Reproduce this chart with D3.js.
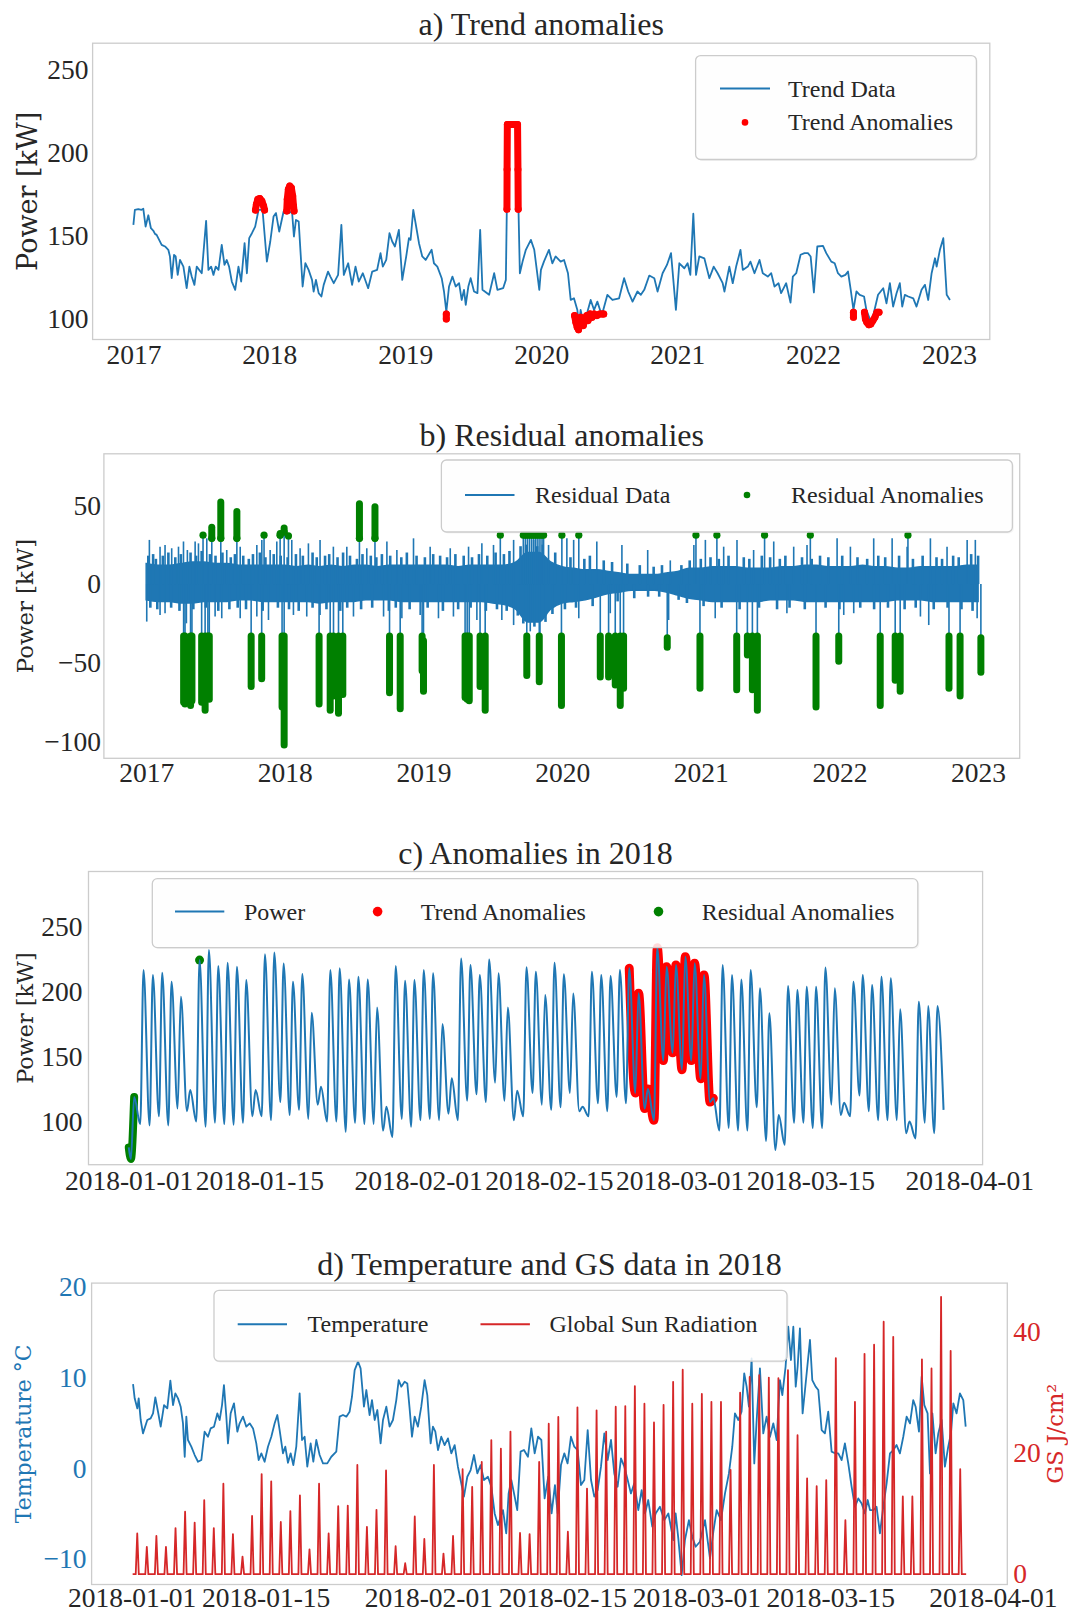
<!DOCTYPE html>
<html>
<head>
<meta charset="utf-8">
<script src="https://cdn.jsdelivr.net/npm/d3@7"></script>
<style>
  body { margin: 0; background: #fff; }
</style>
</head>
<body>
<svg id="chart" width="1068" height="1613"></svg>
<script>
// ---------- a) trend, [decimal year, kW] ----------
const trendData = [
  [2017.0,156.6],[2017.011,165.7],[2017.036,166.1],[2017.06,165.7],[2017.073,166.3],[2017.09,155.6],[2017.11,162.4],[2017.129,154.6],
  [2017.146,153.2],[2017.159,151.2],[2017.171,150.6],[2017.183,148.6],[2017.208,144.6],[2017.233,143.6],[2017.257,141.6],[2017.269,137.6],
  [2017.282,124.5],[2017.299,138.6],[2017.311,137.6],[2017.326,126.5],[2017.343,135.5],[2017.368,131.5],[2017.392,118.5],[2017.412,131.5],
  [2017.429,125.5],[2017.449,120.5],[2017.466,131.5],[2017.503,127.5],[2017.535,159],[2017.552,129.5],[2017.572,131.5],[2017.589,126.5],
  [2017.606,131.5],[2017.626,129.5],[2017.65,144.6],[2017.67,132.5],[2017.687,135.5],[2017.704,131.5],[2017.724,122.5],[2017.749,117.5],
  [2017.773,131.5],[2017.793,122.5],[2017.818,145.6],[2017.835,127.5],[2017.852,148.6],[2017.872,151.6],[2017.896,155.6],[2017.921,165.7],
  [2017.95,165.7],[2017.982,134.5],[2018.007,146.6],[2018.031,161.6],[2018.049,163.7],[2018.073,152.6],[2018.105,164.7],[2018.142,163.7],
  [2018.167,164.7],[2018.181,149.6],[2018.196,159.6],[2018.216,158.6],[2018.245,119.5],[2018.265,133.5],[2018.289,129.5],[2018.314,123.5],
  [2018.326,116.5],[2018.343,123.5],[2018.363,115.5],[2018.383,113.5],[2018.4,120.5],[2018.432,128.5],[2018.449,125.5],[2018.474,121.5],
  [2018.506,126.5],[2018.53,156.6],[2018.548,126.5],[2018.58,133.5],[2018.609,120.5],[2018.634,131.5],[2018.658,122.5],[2018.688,127.5],
  [2018.727,118.5],[2018.757,128.5],[2018.793,129.5],[2018.818,139.6],[2018.835,131.5],[2018.86,135.5],[2018.884,151.6],[2018.904,146.6],
  [2018.924,143.6],[2018.953,153.6],[2018.978,123.5],[2019.007,137.6],[2019.027,148.6],[2019.039,147.6],[2019.059,165.7],[2019.076,157.6],
  [2019.101,145.6],[2019.125,137.6],[2019.15,135.5],[2019.194,141.6],[2019.211,133.5],[2019.236,131.5],[2019.268,124.5],[2019.285,116.5],
  [2019.302,104.4],[2019.322,119.5],[2019.347,125.5],[2019.371,119.5],[2019.396,121.5],[2019.415,111.4],[2019.432,117.5],[2019.445,108.4],
  [2019.464,119.5],[2019.481,124.5],[2019.506,116.5],[2019.531,115.5],[2019.551,153.6],[2019.568,117.5],[2019.617,114.5],[2019.654,127.5],
  [2019.678,117.5],[2019.72,118.5],[2019.74,123.5],[2019.747,165.7],[2019.752,216.9],[2019.826,216.9],[2019.833,165.7],[2019.843,127.5],
  [2019.863,134.5],[2019.887,141.6],[2019.924,147.6],[2019.949,141.6],[2019.986,117.5],[2019.998,129.5],[2020.02,134.5],[2020.057,141.6],
  [2020.082,133.5],[2020.106,137.6],[2020.143,134.5],[2020.168,135.5],[2020.197,127.5],[2020.217,111.4],[2020.241,112.4],[2020.266,105.4],
  [2020.278,95.4],[2020.29,105.4],[2020.31,97.4],[2020.327,100.4],[2020.364,111.4],[2020.389,105.4],[2020.413,110.4],[2020.433,105.4],
  [2020.45,103.4],[2020.487,114.5],[2020.524,111.4],[2020.573,112.4],[2020.61,124.5],[2020.64,116.5],[2020.672,110.4],[2020.708,116.5],
  [2020.733,114.5],[2020.758,117.5],[2020.795,126.1],[2020.832,124.5],[2020.856,116.5],[2020.893,127.5],[2020.925,132.5],[2020.955,139.6],
  [2020.991,105.4],[2021.016,133.5],[2021.053,130.5],[2021.077,133.5],[2021.097,126.5],[2021.119,163.3],[2021.139,126.5],[2021.163,137.6],
  [2021.2,136.5],[2021.237,124.5],[2021.269,131.5],[2021.298,127.5],[2021.335,121.5],[2021.348,116.5],[2021.384,131.5],[2021.409,121.5],
  [2021.434,131.5],[2021.466,141.6],[2021.483,129.5],[2021.52,131.5],[2021.539,134.5],[2021.569,127.5],[2021.606,135.5],[2021.63,127.5],
  [2021.667,125.5],[2021.692,127.5],[2021.716,119.5],[2021.746,121.5],[2021.765,115.5],[2021.802,121.5],[2021.834,109.8],[2021.851,125.5],
  [2021.876,127.5],[2021.908,138.6],[2021.937,139.6],[2021.962,139.6],[2021.982,137.6],[2022.006,115.9],[2022.031,143.6],[2022.073,144],
  [2022.097,139.6],[2022.134,134.5],[2022.159,133.5],[2022.183,127.5],[2022.208,125.5],[2022.238,126.5],[2022.257,128.5],[2022.277,117.5],
  [2022.297,105.4],[2022.319,116.5],[2022.343,114.5],[2022.375,113.5],[2022.392,105.4],[2022.429,97.4],[2022.478,114.5],[2022.516,118.5],
  [2022.54,109.4],[2022.565,121.5],[2022.589,107.4],[2022.614,115.5],[2022.638,121.5],[2022.656,107.4],[2022.675,114.5],[2022.7,113.5],
  [2022.737,112.4],[2022.761,107.4],[2022.798,117.5],[2022.823,120.5],[2022.847,111.4],[2022.872,127.5],[2022.897,136.5],[2022.909,131.5],
  [2022.933,141.6],[2022.958,148.6],[2022.983,114.5],[2023.007,111.4]
];
// trend anomalies, one array per cluster
const trendAnomalies = [
  [[2017.898,165.5],[2017.905,169],[2017.915,172],[2017.93,172.5],[2017.945,171],[2017.958,168],[2017.965,165.5]],
  [[2018.128,165],[2018.132,172],[2018.14,178],[2018.15,180],[2018.162,179],[2018.172,174],[2018.178,168],[2018.182,165]],
  [[2019.302,103],[2019.302,100]],
  [[2019.748,166],[2019.749,190],[2019.751,217],[2019.77,217],[2019.79,217],[2019.81,217],[2019.826,217],[2019.829,190],[2019.831,166]],
  [[2020.245,102],[2020.255,98],[2020.265,95],[2020.275,93.5],[2020.283,97],[2020.29,101],[2020.3,97],[2020.31,96],[2020.32,100],
   [2020.335,102],[2020.345,99],[2020.36,103],[2020.375,101],[2020.39,103],[2020.41,102],[2020.43,103],[2020.45,103],[2020.46,103]],
  [[2022.297,104],[2022.297,101]],
  [[2022.378,104],[2022.385,100],[2022.395,98],[2022.41,96.5],[2022.425,97],[2022.44,99],[2022.455,101],[2022.47,104],[2022.485,104]]
];
const yearTicks = [2017, 2018, 2019, 2020, 2021, 2022, 2023];

// ---------- b) residuals ----------
// monthly envelope of the dense residual band, Jan 2017 .. Jan 2023
const resUpper = [13,12,12,13,14,14,13,13,12,12,12,12, 12,11,12,11,12,11,12,12,11,12,12,12,
  12,12,12,11,12,12,12,12,14,20,20,14, 11,10,9,9,8,7,6,6,6,7,8,10,
  10,11,11,11,10,10,10,11,11,12,12,11, 11,11,12,11,11,10,10,11,11,11,11,12, 12];
const resLower = [-10,-11,-11,-12,-12,-11,-11,-11,-10,-10,-11,-11, -11,-11,-11,-12,-11,-11,-11,-10,-10,-10,-11,-11,
  -11,-11,-11,-11,-11,-11,-12,-13,-16,-24,-24,-16, -12,-11,-10,-8,-6,-5,-4,-4,-4,-5,-7,-9,
  -10,-11,-11,-11,-11,-11,-10,-10,-10,-11,-11,-11, -11,-11,-11,-11,-11,-10,-10,-10,-11,-11,-11,-11, -11];
// tall excursions of the residual line
const resUpSpikes = [[2017.023,28],[2017.1,23.7],[2017.136,24.8],[2017.184,22.7],[2017.233,23.7],[2017.269,27],[2017.297,21.6],
  [2017.353,27],[2017.377,25.8],[2017.437,29],[2017.581,21.6],[2017.678,23.7],[2017.798,24.8],[2017.834,28],[2017.894,21.6],
  [2017.942,27],[2018.05,28],[2018.11,22.7],[2018.17,25.8],[2018.254,28],[2018.35,23.7],[2018.447,23.7],[2018.591,22.7],
  [2018.736,27],[2018.808,21.6],[2018.928,29],[2019.048,23.7],[2019.193,22.7],[2019.325,23.7],[2019.421,25.8],[2019.505,24.8],
  [2019.65,28],[2019.794,28],[2019.902,24.8],[2020.034,29],[2020.083,28],[2020.25,27],[2020.431,24.8],[2020.617,21.6],
  [2020.78,15],[2020.95,24.8],[2021.033,28],[2021.165,23.7],[2021.261,28],[2021.381,21.6],[2021.526,27],[2021.67,23.7],
  [2021.766,24.8],[2021.983,29],[2022.079,23.7],[2022.247,29],[2022.38,29],[2022.488,23.7],[2022.656,29],[2022.776,23.7],
  [2022.921,28],[2022.98,28]];
const resDownSpikes = [[2017.004,-23.8],[2017.1,-19.6],[2017.136,-18.5],[2017.29,-24.9],[2017.497,-20.6],[2017.545,-21.7],
  [2017.678,-21.7],[2017.798,-20.6],[2017.882,-22.8],[2018.062,-19.6],[2018.158,-20.6],[2018.254,-19.6],[2018.495,-20.6],
  [2018.712,-20.6],[2018.844,-21.7],[2018.976,-19.6],[2019.108,-21.7],[2019.216,-20.6],[2019.385,-22.8],[2019.565,-22.8],
  [2019.65,-26],[2019.77,-30],[2019.84,-31],[2020.12,-21.7],[2020.347,-18.5],[2020.768,-22.8],[2021.104,-21.7],[2021.621,-18.5],
  [2022.031,-19.6],[2022.103,-18.5],[2022.584,-20.6],[2022.644,-26],[2022.993,-21.7]];
// medium excursions that make the ragged edge of the band
const resMidSpikes = [[2017.015,18],[2017.05,19],[2017.07,16],[2017.12,18],[2017.16,20],[2017.21,17],[2017.25,19],[2017.32,20],
  [2017.36,18],[2017.40,21],[2017.46,19],[2017.50,18],[2017.55,20],[2017.61,17],[2017.64,19],[2017.70,18],[2017.74,16],[2017.77,19],
  [2017.82,20],[2017.86,17],[2017.92,19],[2017.97,18],[2018.02,17],[2018.08,19],[2018.13,18],[2018.20,20],[2018.23,17],[2018.29,18],
  [2018.32,19],[2018.38,17],[2018.42,20],[2018.47,18],[2018.52,16],[2018.56,19],[2018.62,18],[2018.66,17],[2018.70,19],[2018.76,18],
  [2018.84,17],[2018.88,20],[2018.95,18],[2019.01,17],[2019.07,19],[2019.12,18],[2019.17,17],[2019.23,19],[2019.29,18],[2019.35,17],
  [2019.40,19],[2019.46,18],[2019.52,20],[2019.58,19],[2019.62,21],[2019.70,24],[2019.74,25],[2019.82,24],[2019.86,25],[2019.95,20],
  [2020.06,17],[2020.16,16],[2020.20,18],[2020.30,15],[2020.36,14],[2020.47,13],[2020.56,12],[2020.66,11],[2020.72,12],[2020.86,12],
  [2020.92,15],[2021.00,16],[2021.07,17],[2021.13,16],[2021.20,18],[2021.31,17],[2021.35,16],[2021.44,18],[2021.50,17],[2021.57,16],
  [2021.61,18],[2021.73,17],[2021.80,16],[2021.86,18],[2021.92,17],[2022.02,18],[2022.13,17],[2022.20,16],[2022.28,18],[2022.33,17],
  [2022.43,18],[2022.53,16],[2022.60,18],[2022.70,17],[2022.74,16],[2022.82,18],[2022.86,17],[2022.95,19],[2023.0,18],
  [2017.03,-15],[2017.08,-16],[2017.18,-15],[2017.24,-17],[2017.34,-16],[2017.43,-15],[2017.52,-17],[2017.60,-16],[2017.66,-15],
  [2017.72,-16],[2017.84,-17],[2017.95,-15],[2018.03,-16],[2018.10,-17],[2018.20,-15],[2018.30,-16],[2018.40,-17],[2018.45,-15],
  [2018.55,-16],[2018.63,-15],[2018.75,-17],[2018.80,-15],[2018.90,-16],[2019.03,-15],[2019.14,-17],[2019.25,-16],[2019.34,-15],
  [2019.45,-17],[2019.53,-16],[2019.60,-17],[2019.68,-20],[2019.72,-25],[2019.80,-27],[2019.88,-24],[2019.93,-19],[2020.02,-16],
  [2020.10,-15],[2020.22,-14],[2020.40,-11],[2020.52,-9],[2020.62,-8],[2020.70,-8],[2020.84,-10],[2020.90,-12],[2021.02,-14],
  [2021.15,-15],[2021.28,-16],[2021.42,-15],[2021.55,-16],[2021.64,-15],[2021.75,-16],[2021.90,-15],[2022.00,-16],[2022.15,-15],
  [2022.25,-16],[2022.35,-15],[2022.47,-16],[2022.55,-15],[2022.68,-16],[2022.78,-15],[2022.88,-16],[2022.96,-17]];
// residual anomalies below the band: [year, top, bottom]
const resAnomLow = [[2017.27,-33,-75],[2017.28,-33,-76],[2017.32,-33,-77],[2017.33,-33,-74],[2017.4,-33,-75],[2017.425,-33,-80],
  [2017.445,-33,-72],[2017.455,-33,-73],[2017.757,-33,-65],[2017.833,-33,-60],[2017.98,-33,-78],[2017.995,-33,-102],
  [2018.247,-33,-76],[2018.327,-33,-80],[2018.351,-33,-71],[2018.387,-33,-82],[2018.418,-33,-70],[2018.755,-33,-69],
  [2018.832,-33,-79],[2018.99,-33,-55],[2019.0,-36,-68],[2019.3,-33,-72],[2019.315,-33,-73],[2019.33,-33,-74],
  [2019.408,-33,-65],[2019.445,-33,-80],[2019.745,-33,-58],[2019.835,-33,-62],[2019.995,-33,-77],[2020.275,-33,-59],
  [2020.335,-33,-59],[2020.383,-33,-64],[2020.419,-33,-77],[2020.443,-33,-66],[2020.758,-34,-40],[2020.994,-33,-66],
  [2021.259,-33,-67],[2021.336,-33,-45],[2021.372,-33,-67],[2021.408,-33,-80],[2021.831,-33,-78],[2021.995,-33,-49],
  [2022.294,-33,-77],[2022.402,-33,-61],[2022.438,-33,-68],[2022.79,-33,-66],[2022.87,-33,-71],[2023.02,-34,-56]];
// residual anomalies above the band: [year, low, high]
const resAnomHigh = [[2017.41,31,31],[2017.473,29,36],[2017.538,29,52],[2017.654,29,46],[2017.85,31,31],[2017.966,31,32],
  [2017.995,33,35.5],[2018.026,30.5,30.5],[2018.538,29,51],[2018.65,29,49],[2019.554,31,31],[2019.72,31,31],[2019.735,31,31],
  [2019.75,31,31],[2019.765,31,31],[2019.78,31,31],[2019.795,31,31],[2019.81,31,31],[2019.825,31,31],[2019.84,31,31],
  [2019.855,31,31],[2019.866,31,31],[2019.998,31,31],[2020.12,31,31],[2020.965,31,31],[2021.116,31,31],[2021.46,31,31],
  [2021.79,31,31],[2022.494,31,31]];

// ---------- c) power in 2018, day 0 = 2018-01-01 ----------
const powerTroughs = [71,98,97,104,97,110,108,100,96,99, 98,97.5,99,104,104,101,115,105,109,102,
  113,100,100,92,99,98,98,93,88,102, 96,101,102,101,106,101,116,121,115,130,
  116,101,104,122,113,109,111,122,108,104, 114,108,119,114,122,110,101,147,153,140,
  147,133,115,93,95,93,93,111,85,78, 82,99,99,95,95,113,105,104,120,108,
  101,101,101,91,87,99,91,109];
const powerPeaks = [119,216.8,213,214.8,207.8,196.3,124.3,224.5,232.2,219.9, 222.5,219.4,209.1,124.3,228.9,230.4,221.9,207.8,213.7,183.9,
  126.9,216.8,218.1,209.6,211.7,209.6,188,111.4,219.9,208.6, 209.1,216.8,214.3,175.2,133.3,225.8,220.7,213,225,214.3,
  188,123.8,218.9,215.5,197.5,222.5,213.5,198.8,111.4,215.5, 213,212.2,216.8,218.1,199,125,234,219.4,220.7,227,
  222,213,118,220.7,213,209.6,216.8,202.7,183.4,105, 204.5,201.4,204,204,218.7,202.7,114.5,207.8,213,205.3,
  211.7,210.4,186.5,100,192.4,189,189];
const trendWindowC = [53.3, 62.95];                 // trend anomaly days
const residualC = [[0.02,80],[0.25,71],[0.6,119]];  // start-of-year residual anomaly
const residualDotC = [[7.6,224.5]];

// ---------- d) temperature and global sun radiation ----------
const temperature = [
  [0.14,9.3],[0.31,7.72],[0.59,6.61],[0.73,7.72],[0.94,5.33],[1.18,3.85],[1.63,5.33],[1.98,5.51],[2.23,6.06],[2.47,7.83],
  [2.75,6.24],[3.03,4.59],[3.38,6.98],[3.72,6.61],[4.04,9.67],[4.32,6.98],[4.56,8.27],[4.84,7.72],[5.12,6.8],[5.36,4.96],
  [5.54,1.27],[5.71,5.7],[5.88,3.12],[6.23,2.38],[6.58,1.46],[6.93,0.72],[7.28,0.91],[7.62,4.04],[7.97,3.48],[8.25,4.4],
  [8.6,4.59],[8.95,6.06],[9.19,5.33],[9.44,6.98],[9.64,9.19],[9.89,5.7],[10.06,2.75],[10.34,6.06],[10.69,7.17],[11.04,4.04],
  [11.28,4.96],[11.63,5.7],[11.98,4.59],[12.33,4.96],[12.68,4.4],[13.02,2.75],[13.27,0.91],[13.55,1.65],[13.89,0.72],[14.24,2.38],
  [14.59,3.48],[14.94,4.96],[15.22,5.88],[15.46,4.22],[15.81,1.65],[16.05,2.38],[16.33,0.61],[16.61,1.65],[16.89,0.35],[17.2,2.38],
  [17.55,8.27],[17.8,3.12],[18.07,3.48],[18.35,0.17],[18.7,2.75],[18.98,0.72],[19.29,3.12],[19.64,1.46],[19.99,0.54],[20.44,0.54],
  [20.86,1.27],[21.38,1.83],[21.73,5.7],[22.08,5.88],[22.43,5.7],[22.77,6.24],[23.02,7.9],[23.3,10.84],[23.65,11.77],[23.92,11.03],
  [24.27,6.8],[24.52,8.64],[24.86,5.88],[25.11,7.53],[25.39,5.33],[25.67,6.43],[26.01,2.75],[26.26,5.33],[26.61,6.8],[26.95,4.59],
  [27.3,5.33],[27.65,7.53],[27.9,9.74],[28.17,9.01],[28.52,9.56],[28.8,9.37],[29.04,6.61],[29.29,3.48],[29.57,5.7],[29.91,4.59],
  [30.26,6.8],[30.61,9.74],[30.89,8.08],[31.24,2.75],[31.48,4.59],[31.73,4.04],[32.01,2.01],[32.35,3.48],[32.7,2.56],[33.05,3.3],
  [33.4,1.65],[33.75,2.56],[34.09,0.17],[34.37,-1.3],[34.72,-3.14],[35.07,-0.94],[35.42,-0.2],[35.77,1.46],[36.12,-0.57],[36.46,0.35],
  [36.81,-1.3],[37.23,-0.94],[37.58,-2.04],[37.93,-4.99],[38.27,-6.28],[38.8,-4.62],[39.14,-7.2],[39.39,-2.78],[39.67,-1.3],[40.02,-3.14],
  [40.29,-4.62],[40.64,1.83],[40.99,2.01],[41.41,1.27],[41.76,4.4],[42.11,1.65],[42.46,3.48],[42.81,3.12],[43.15,-3.33],[43.53,-0.94],
  [43.88,-4.99],[44.23,-1.86],[44.51,-4.99],[44.86,0.35],[45.21,1.65],[45.55,0.54],[45.9,3.48],[46.25,2.38],[46.6,2.01],[46.95,-1.86],
  [47.3,-1.3],[47.65,4.22],[48.0,-1.3],[48.34,-3.14],[48.69,-2.41],[49.04,0.17],[49.39,3.85],[49.74,0.91],[50.09,3.12],[50.43,-0.57],
  [50.78,-2.04],[51.13,1.09],[51.48,0.17],[51.83,-1.3],[52.17,-2.78],[52.52,-1.67],[52.94,-4.62],[53.29,-2.41],[53.64,-4.99],[53.98,-3.51],
  [54.4,-6.46],[54.75,-4.99],[55.2,-4.26],[55.66,-5.73],[56.08,-4.99],[56.6,-7.94],[56.84,-4.99],[57.12,-7.75],[57.47,-11.8],[57.81,-7.94],
  [58.23,-5.73],[58.58,-7.57],[58.93,-8.67],[59.38,-8.12],[59.91,-5.73],[60.43,-9.96],[60.78,-7.02],[61.13,-4.62],[61.58,-5.73],[62.0,-2.78],
  [62.41,-0.57],[62.76,2.38],[63.04,6.06],[63.39,5.33],[63.73,6.24],[64.01,10.48],[64.26,9.01],[64.5,6.8],[64.78,12.13],[65.06,0.54],
  [65.31,5.33],[65.65,11.03],[66.0,3.85],[66.35,5.7],[66.7,3.48],[67.05,4.96],[67.4,3.12],[67.74,9.74],[67.99,8.08],[68.33,11.21],
  [68.61,15.63],[68.89,11.95],[69.14,15.63],[69.39,9.01],[69.59,11.21],[69.83,15.45],[70.11,6.06],[70.36,8.64],[70.88,14.17],[71.12,9.74],
  [71.47,9.01],[71.75,8.64],[72.1,4.22],[72.44,3.85],[72.79,6.24],[73.14,1.83],[73.49,1.65],[73.84,1.65],[74.19,0.91],[74.53,2.75],
  [74.88,0.54],[75.23,-2.04],[75.58,-4.26],[75.93,-3.33],[76.28,-3.88],[76.63,-4.99],[76.91,-3.51],[77.15,-4.62],[77.5,-4.62],[77.84,-4.26],
  [78.19,-7.2],[78.54,-4.26],[78.89,-1.67],[79.24,1.65],[79.59,2.01],[79.93,2.56],[80.28,1.65],[80.63,3.48],[80.98,5.7],[81.33,4.96],
  [81.67,7.53],[81.92,6.8],[82.27,4.04],[82.55,10.11],[82.83,6.98],[83.17,6.06],[83.42,-0.57],[83.67,6.06],[84.01,1.65],[84.29,3.85],
  [84.64,5.33],[84.98,0.17],[85.33,2.38],[85.61,3.85],[85.86,7.17],[86.2,6.06],[86.55,8.27],[86.9,7.53],[87.15,4.59]
];
// daily peak of global sun radiation, J/cm2 (night values are 0)
const gsPeaks = [6.7,4.5,6.3,4.5,7.6,10.3,8.5,12.2,7.6,14.9, 6.6,2.9,9.6,16.5,15.3,8.6,10.4,13,4.1,14.9,
  6.7,11.2,11.3,18,7.8,10.6,17.1,4.6,1.8,9.5, 5.8,18,3.4,6.3,17.3,14.4,18.5,22.1,20.7,23.5,
  6.8,6.6,18.5,24.8,25.9,7,27.5,14.1,27,23.5, 27.6,27.7,31,28.1,25,27.9,31.7,33.7,28.1,29.7,
  28.4,28.4,17.2,29.9,32.5,32.8,32.4,32.3,33.6,22.9, 15.8,14.5,15.5,35.6,8.9,28.4,36.3,37.8,41.6,39.1,
  12.8,12.8,35.4,33.9,45.7,36.8,17.3];
const gsEndDay = 87.2;
const dateTicks = ["2018-01-01","2018-01-15","2018-02-01","2018-02-15","2018-03-01","2018-03-15","2018-04-01"];

// ---------- drawing ----------
const svg = d3.select("#chart");
const serif = '"Liberation Serif", "Times New Roman", serif';
const labelFont = '"DejaVu Serif", serif';
const blue = "#1f77b4", gsRed = "#d62728", ink = "#262626";
const day0 = Date.UTC(2018, 0, 1);
const dayToDate = d => new Date(day0 + d * 864e5);
const parseDay = d3.utcParse("%Y-%m-%d");

const boxA = {left: 92.6, right: 989.8, top: 43.2, bottom: 339.5};
const boxB = {left: 103.9, right: 1019.7, top: 453.8, bottom: 758.3};
const boxC = {left: 88.5, right: 982.6, top: 871.5, bottom: 1164.7};
const boxD = {left: 91.6, right: 1007.3, top: 1283.1, bottom: 1584.5};

function tidy(g, color) {
  g.attr("font-family", null).attr("font-size", null).attr("color", color);
  g.select(".domain").remove();
  g.selectAll(".tick text").attr("font-size", 27.5).attr("font-family", serif);
}
function frame(box) {
  svg.append("rect").attr("x", box.left).attr("y", box.top)
    .attr("width", box.right - box.left).attr("height", box.bottom - box.top)
    .attr("fill", "none").attr("stroke", "#cccccc").attr("stroke-width", 1.3);
}
function title(box, text) {
  svg.append("text").attr("x", (box.left + box.right) / 2).attr("y", box.top - 8)
    .attr("text-anchor", "middle").attr("font-family", serif).attr("font-size", 32)
    .attr("fill", ink).text(text);
}
function ylabel(x, y, size, color, text) {
  svg.append("text").attr("transform", `translate(${x},${y}) rotate(-90)`)
    .attr("text-anchor", "middle").attr("dominant-baseline", "central")
    .attr("font-family", labelFont).attr("font-size", size).attr("fill", color).text(text);
}
function legendBox(x, y, w, h) {
  const g = svg.append("g");
  g.append("rect").attr("x", x + 1.5).attr("y", y + 1.5).attr("width", w).attr("height", h).attr("rx", 5)
    .attr("fill", "#000").attr("fill-opacity", 0.04);
  g.append("rect").attr("x", x).attr("y", y).attr("width", w).attr("height", h).attr("rx", 5)
    .attr("fill", "#fff").attr("fill-opacity", 0.85).attr("stroke", "#cccccc").attr("stroke-width", 1.3);
  return g;
}
function legendLine(g, x1, x2, y, color) {
  g.append("line").attr("x1", x1).attr("x2", x2).attr("y1", y).attr("y2", y)
    .attr("stroke", color).attr("stroke-width", 2);
}
function legendDot(g, x, y, r, color) {
  g.append("circle").attr("cx", x).attr("cy", y).attr("r", r).attr("fill", color);
}
function legendText(g, x, y, text) {
  g.append("text").attr("x", x).attr("y", y).attr("dominant-baseline", "central")
    .attr("font-family", serif).attr("font-size", 24).attr("fill", ink).text(text);
}

// ----- panel a -----
const xA = d3.scaleLinear().domain([2016.7, 2023.3]).range([boxA.left, boxA.right]);
const yA = d3.scaleLinear().domain([87.6, 266]).range([boxA.bottom, boxA.top]);
frame(boxA);
title(boxA, "a) Trend anomalies");
tidy(svg.append("g").attr("transform", `translate(0,${boxA.bottom})`)
  .call(d3.axisBottom(xA).tickValues(yearTicks).tickFormat(d3.format("d")).tickSize(0).tickPadding(5)), ink);
tidy(svg.append("g").attr("transform", `translate(${boxA.left},0)`)
  .call(d3.axisLeft(yA).tickValues([100, 150, 200, 250]).tickSize(0).tickPadding(4)), ink);
ylabel(27, (boxA.top + boxA.bottom) / 2, 27, ink, "Power [kW]");

const lineA = d3.line().x(d => xA(d[0])).y(d => yA(d[1]));
svg.append("path").datum(trendData).attr("d", lineA)
  .attr("fill", "none").attr("stroke", blue).attr("stroke-width", 1.8).attr("stroke-linejoin", "round");
trendAnomalies.forEach(c => {
  svg.append("path").datum(c).attr("d", lineA).attr("fill", "none").attr("stroke", "red")
    .attr("stroke-width", 7).attr("stroke-linecap", "round").attr("stroke-linejoin", "round");
  svg.append("g").selectAll("circle").data(c).join("circle")
    .attr("cx", d => xA(d[0])).attr("cy", d => yA(d[1])).attr("r", 3.5).attr("fill", "red");
});
{
  const g = legendBox(695.6, 55.6, 280.8, 103.9);
  legendLine(g, 720, 770, 88.5, blue);
  legendText(g, 788, 88.5, "Trend Data");
  legendDot(g, 745, 122.4, 3.3, "red");
  legendText(g, 788, 122.4, "Trend Anomalies");
}

// ----- panel b -----
const xB = d3.scaleLinear().domain([2016.695, 2023.3]).range([boxB.left, boxB.right]);
const yB = d3.scaleLinear().domain([-110.5, 82.6]).range([boxB.bottom, boxB.top]);
frame(boxB);
title(boxB, "b) Residual anomalies");
tidy(svg.append("g").attr("transform", `translate(0,${boxB.bottom})`)
  .call(d3.axisBottom(xB).tickValues(yearTicks).tickFormat(d3.format("d")).tickSize(0).tickPadding(4)), ink);
tidy(svg.append("g").attr("transform", `translate(${boxB.left},0)`)
  .call(d3.axisLeft(yB).tickValues([50, 0, -50, -100]).tickSize(0).tickPadding(3)), ink);
ylabel(25, (boxB.top + boxB.bottom) / 2, 22.8, ink, "Power [kW]");

const band = resUpper.map((u, i) => ({t: 2017 + i / 12, hi: u, lo: resLower[i]}));
svg.append("path").datum(band)
  .attr("d", d3.area().curve(d3.curveMonotoneX).x(d => xB(d.t)).y0(d => yB(d.lo)).y1(d => yB(d.hi)))
  .attr("fill", blue).attr("stroke", blue).attr("stroke-width", 1.5);
const spikes = svg.append("g").attr("stroke", blue).attr("stroke-width", 1.6);
spikes.selectAll("line.m").data(resMidSpikes).join("line").attr("class", "m")
  .attr("stroke-width", 2.6)
  .attr("x1", d => xB(d[0])).attr("x2", d => xB(d[0])).attr("y1", yB(0)).attr("y2", d => yB(d[1]));
spikes.selectAll("line.s").data(resUpSpikes.concat(resDownSpikes)).join("line").attr("class", "s")
  .attr("x1", d => xB(d[0])).attr("x2", d => xB(d[0])).attr("y1", yB(0)).attr("y2", d => yB(d[1]));
spikes.selectAll("line.l").data(resAnomLow).join("line").attr("class", "l")
  .attr("x1", d => xB(d[0])).attr("x2", d => xB(d[0])).attr("y1", yB(0)).attr("y2", d => yB(d[1]));
spikes.selectAll("line.h").data(resAnomHigh).join("line").attr("class", "h")
  .attr("x1", d => xB(d[0])).attr("x2", d => xB(d[0])).attr("y1", yB(0)).attr("y2", d => yB(d[1]));
const greens = svg.append("g").attr("stroke", "green").attr("stroke-width", 7).attr("stroke-linecap", "round");
greens.selectAll("line.l").data(resAnomLow).join("line").attr("class", "l")
  .attr("x1", d => xB(d[0])).attr("x2", d => xB(d[0])).attr("y1", d => yB(d[1])).attr("y2", d => yB(d[2]));
greens.selectAll("line.h").data(resAnomHigh.filter(d => d[2] > d[1])).join("line").attr("class", "h")
  .attr("x1", d => xB(d[0])).attr("x2", d => xB(d[0])).attr("y1", d => yB(d[1])).attr("y2", d => yB(d[2]));
svg.append("g").selectAll("circle").data(resAnomHigh).join("circle")
  .attr("cx", d => xB(d[0])).attr("cy", d => yB(d[1])).attr("r", 3.6).attr("fill", "green");
{
  const g = legendBox(441.4, 460, 571, 72);
  legendLine(g, 465, 514.5, 495, blue);
  legendText(g, 535, 495, "Residual Data");
  legendDot(g, 747, 495, 3.3, "green");
  legendText(g, 791, 495, "Residual Anomalies");
}

// ----- panel c -----
const xC = d3.scaleUtc().domain([dayToDate(-4.29), dayToDate(91.43)]).range([boxC.left, boxC.right]);
const yC = d3.scaleLinear().domain([66.7, 292.8]).range([boxC.bottom, boxC.top]);
frame(boxC);
title(boxC, "c) Anomalies in 2018");
tidy(svg.append("g").attr("transform", `translate(0,${boxC.bottom})`)
  .call(d3.axisBottom(xC).tickValues(dateTicks.map(parseDay)).tickFormat(d3.utcFormat("%Y-%m-%d")).tickSize(0).tickPadding(6)), ink);
tidy(svg.append("g").attr("transform", `translate(${boxC.left},0)`)
  .call(d3.axisLeft(yC).tickValues([100, 150, 200, 250]).tickSize(0).tickPadding(6)), ink);
ylabel(25, (boxC.top + boxC.bottom) / 2, 22.3, ink, "Power [kW]");

const power = [];
powerTroughs.forEach((v, i) => {
  power.push([i + 0.25, v]);
  if (i < powerPeaks.length) power.push([i + 0.6, powerPeaks[i]]);
});
const lineC = d3.line().curve(d3.curveMonotoneX).x(d => xC(dayToDate(d[0]))).y(d => yC(d[1]));
const redC = power.filter(d => d[0] >= trendWindowC[0] && d[0] <= trendWindowC[1]);
svg.append("path").datum(redC).attr("d", lineC).attr("fill", "none").attr("stroke", "red")
  .attr("stroke-width", 9).attr("stroke-linecap", "round").attr("stroke-linejoin", "round");
svg.append("path").datum(residualC).attr("d", lineC).attr("fill", "none").attr("stroke", "green")
  .attr("stroke-width", 8).attr("stroke-linecap", "round").attr("stroke-linejoin", "round");
svg.append("g").selectAll("circle").data(residualDotC).join("circle")
  .attr("cx", d => xC(dayToDate(d[0]))).attr("cy", d => yC(d[1])).attr("r", 4.5).attr("fill", "green");
svg.append("path").datum(residualC.slice(0, 1).concat(power)).attr("d", lineC)
  .attr("fill", "none").attr("stroke", blue).attr("stroke-width", 2).attr("stroke-linejoin", "round");
{
  const g = legendBox(152.3, 878.7, 765.5, 68.9);
  legendLine(g, 175, 224.3, 911.6, blue);
  legendText(g, 243.9, 911.6, "Power");
  legendDot(g, 377.6, 911.6, 4.8, "red");
  legendText(g, 420.8, 911.6, "Trend Anomalies");
  legendDot(g, 658.5, 911.6, 4.8, "green");
  legendText(g, 701.7, 911.6, "Residual Anomalies");
}

// ----- panel d -----
const xD = d3.scaleUtc().domain([dayToDate(-4.19), dayToDate(91.5)]).range([boxD.left, boxD.right]);
const yT = d3.scaleLinear().domain([-12.84, 20.45]).range([boxD.bottom, boxD.top]);
const yG = d3.scaleLinear().domain([-1.7, 47.96]).range([boxD.bottom, boxD.top]);
frame(boxD);
title(boxD, "d) Temperature and GS data in 2018");
tidy(svg.append("g").attr("transform", `translate(0,${boxD.bottom})`)
  .call(d3.axisBottom(xD).tickValues(dateTicks.map(parseDay)).tickFormat(d3.utcFormat("%Y-%m-%d")).tickSize(0).tickPadding(3)), ink);
tidy(svg.append("g").attr("transform", `translate(${boxD.left},0)`)
  .call(d3.axisLeft(yT).tickValues([-10, 0, 10, 20]).tickSize(0).tickPadding(5)), blue);
tidy(svg.append("g").attr("transform", `translate(${boxD.right},0)`)
  .call(d3.axisRight(yG).tickValues([0, 20, 40]).tickSize(0).tickPadding(6)), gsRed);
ylabel(23, (boxD.top + boxD.bottom) / 2, 22, blue, "Temperature °C");
ylabel(1055, (boxD.top + boxD.bottom) / 2, 22.5, gsRed, "GS J/cm²");

svg.append("path").datum(temperature)
  .attr("d", d3.line().x(d => xD(dayToDate(d[0]))).y(d => yT(d[1])))
  .attr("fill", "none").attr("stroke", blue).attr("stroke-width", 1.8).attr("stroke-linejoin", "round");
const gs = [[0.1, 0]];
gsPeaks.forEach((v, i) => { gs.push([i + 0.42, 0], [i + 0.58, v], [i + 0.74, 0]); });
gs.push([gsEndDay, 0]);
svg.append("path").datum(gs)
  .attr("d", d3.line().x(d => xD(dayToDate(d[0]))).y(d => yG(d[1])))
  .attr("fill", "none").attr("stroke", gsRed).attr("stroke-width", 1.8).attr("stroke-linejoin", "round");
{
  const g = legendBox(214, 1290.3, 573, 70.9);
  legendLine(g, 237.7, 287, 1324.2, blue);
  legendText(g, 307.6, 1324.2, "Temperature");
  legendLine(g, 480.5, 529.9, 1324.2, gsRed);
  legendText(g, 549.4, 1324.2, "Global Sun Radiation");
}
</script>
</body>
</html>
